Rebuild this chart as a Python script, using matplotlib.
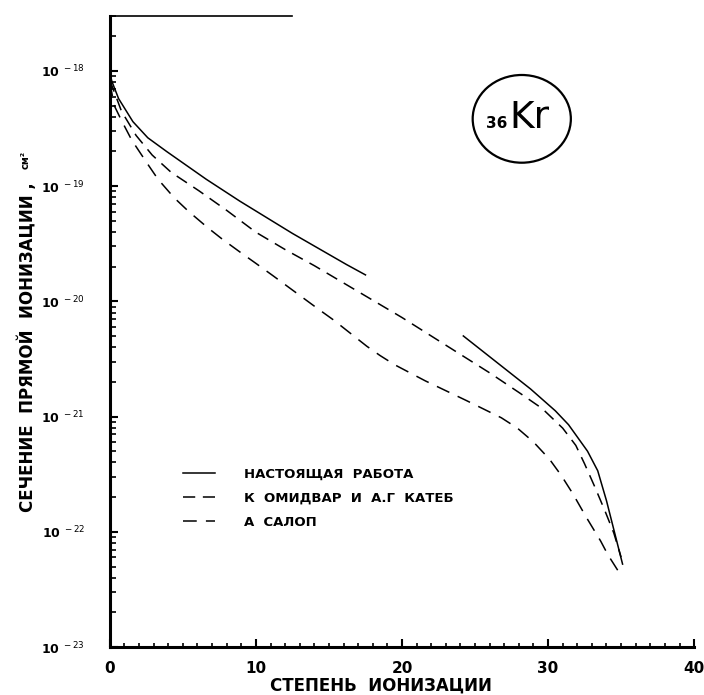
import matplotlib
matplotlib.use("Agg")
import matplotlib.pyplot as plt
import numpy as np
from matplotlib.patches import Ellipse
from matplotlib.ticker import FixedLocator, LogLocator, MultipleLocator, NullFormatter

# степень ионизации и lg(сечения, см^2)
x_work = [0, 0.14, 0.6, 1.58, 2.6, 3.9, 5.7, 6.6, 8.9, 12.5, 16.2, 17.5, np.nan,
          24.2, 26.0, 28.8, 30.5, 31.4, 32.7, 33.4, 34.0, 35.1]
lg_work = [-18.02, -18.09, -18.24, -18.44, -18.58, -18.70, -18.86, -18.94, -19.13, -19.41, -19.68, -19.77, np.nan,
           -20.30, -20.48, -20.76, -20.95, -21.07, -21.30, -21.47, -21.73, -22.28]

x_omid = [0, 0.8, 1.8, 2.9, 4.2, 6.1, 8, 10, 12, 14, 16, 18, 20, 22, 24, 26, 28,
          29.6, 31.0, 31.9, 32.5, 33.2, 33.9, 34.5, 35.0]
lg_omid = [-18.08, -18.35, -18.56, -18.73, -18.88, -19.04, -19.21, -19.40, -19.55, -19.69, -19.84, -19.99, -20.14, -20.30, -20.46, -20.62, -20.79,
           -20.93, -21.10, -21.25, -21.41, -21.61, -21.82, -22.01, -22.22]

x_salop = [0, 0.3, 0.8, 1.5, 2.6, 3.3, 4.4, 5.4, 6.7, 7.7, 9.0, 10.0, 11.2, 14.2, 15.3, 16.6, 17.6, 18.5, 19.5,
           21.6, 24.4, 26.8, 27.9, 29.0, 30.1, 30.9, 31.7, 32.6, 33.6, 34.1, 35.1]
lg_salop = [-18.10, -18.30, -18.43, -18.60, -18.81, -18.94, -19.10, -19.22, -19.36, -19.46, -19.58, -19.67, -19.78, -20.06, -20.16, -20.29, -20.39, -20.47, -20.55,
            -20.69, -20.86, -21.01, -21.10, -21.22, -21.37, -21.51, -21.67, -21.87, -22.08, -22.20, -22.40]

labels = ["НАСТОЯЩАЯ  РАБОТА", "К  ОМИДВАР  И  А.Г  КАТЕБ", "А  САЛОП"]
y_decades = [-23, -22, -21, -20, -19, -18]
x_ticks = [0, 10, 20, 30, 40]

plt.rcParams['font.family'] = ['DejaVu Sans']

fig = plt.figure(figsize=(7.04, 6.95), dpi=100)
ax = fig.add_axes([0.156, 0.069, 0.83, 0.908])

ax.plot(x_work, 10.0 ** np.array(lg_work), color='black', lw=1.1, label=labels[0])
ax.plot(x_omid, 10.0 ** np.array(lg_omid), color='black', lw=1.1, dashes=(8, 5), label=labels[1])
ax.plot(x_salop, 10.0 ** np.array(lg_salop), color='black', lw=1.1, dashes=(9, 6), label=labels[2])

ax.set_yscale('log')
ax.set_xlim(0, 40)
ax.set_ylim(1e-23, 3e-18)

ax.yaxis.set_major_locator(FixedLocator([10.0 ** e for e in y_decades]))
ax.set_yticklabels([f'10$^{{\\ {e}}}$' for e in y_decades])
ax.yaxis.set_minor_locator(LogLocator(base=10, subs=np.arange(2, 10)))
ax.yaxis.set_minor_formatter(NullFormatter())
ax.xaxis.set_major_locator(FixedLocator(x_ticks))
ax.xaxis.set_minor_locator(MultipleLocator(1))

ax.tick_params(which='both', direction='in', color='black')
ax.tick_params(axis='y', which='major', length=6, width=1.5, pad=18, labelsize=9)
ax.tick_params(axis='y', which='minor', length=4, width=1.2)
ax.tick_params(axis='x', which='major', length=6, width=1.5, pad=10, labelsize=11)
ax.tick_params(axis='x', which='minor', length=3, width=1.2)
for lab in ax.get_xticklabels() + ax.get_yticklabels():
    lab.set_fontweight('bold')

ax.spines['right'].set_visible(False)
ax.spines['top'].set_bounds(0, 12.5)
ax.spines['top'].set_linewidth(1.2)
ax.spines['left'].set_linewidth(2.2)
ax.spines['bottom'].set_linewidth(2.2)

ax.set_xlabel("СТЕПЕНЬ  ИОНИЗАЦИИ", fontsize=12, fontweight='bold')
ax.xaxis.set_label_coords(0.464, -0.047)
ax.set_ylabel("СЕЧЕНИЕ  ПРЯМОЙ  ИОНИЗАЦИИ ,", fontsize=12, fontweight='bold')
ax.yaxis.set_label_coords(-0.125, 0.475)
fig.text(0.036, 1 - 160 / 695, "см²", rotation=90, fontsize=7, fontweight='bold', ha='center', va='center')

leg = ax.legend(loc='center left', bbox_to_anchor=(0.125, 0.236), frameon=False,
                fontsize=9.5, handlelength=2.4, handletextpad=2.2, labelspacing=0.85,
                borderpad=0, borderaxespad=0)
for t in leg.get_texts():
    t.set_fontweight('bold')

ax.add_patch(Ellipse((0.705, 0.837), 0.168, 0.139, transform=ax.transAxes,
                     fill=False, edgecolor='black', lw=1.6))
ax.text(0.683, 0.822, "Kr", transform=ax.transAxes, fontsize=27, ha='left', va='baseline')
ax.text(0.68, 0.822, "36", transform=ax.transAxes, fontsize=11, fontweight='bold', ha='right', va='baseline')

fig.savefig("out.png", dpi=100)
